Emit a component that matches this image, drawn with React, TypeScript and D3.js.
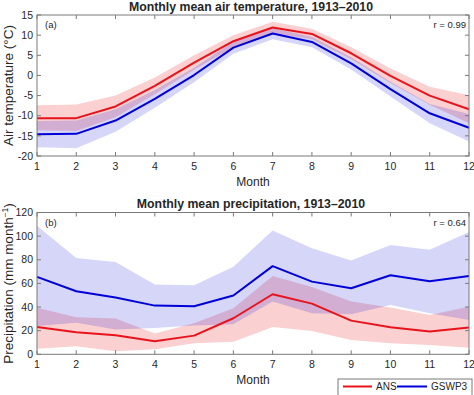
import { scaleLinear, line, area, range } from "d3";

const months = range(1, 13);

const tempANS = [-10.6, -10.6, -7.7, -2.6, 3.2, 8.5, 11.9, 10.3, 5.5, -0.1, -5.0, -8.4];
const tempANSHigh = [-7.4, -7.2, -5.0, -0.5, 5.0, 10.0, 13.3, 11.6, 7.0, 1.7, -2.8, -4.9];
const tempANSLow = [-13.6, -13.8, -10.4, -4.7, 1.4, 7.0, 10.5, 9.0, 4.0, -1.9, -7.3, -11.9];
const tempGSWP3 = [-14.6, -14.5, -11.2, -5.8, 0.1, 6.9, 10.4, 8.3, 3.0, -3.4, -9.4, -13.0];
const tempGSWP3High = [-11.3, -11.2, -8.4, -3.6, 1.9, 8.4, 11.8, 9.6, 4.5, -1.6, -7.1, -9.6];
const tempGSWP3Low = [-17.8, -18.1, -14.0, -8.0, -1.7, 5.4, 9.0, 7.0, 1.5, -5.2, -11.9, -16.4];

const precANS = [23.2, 18.6, 16.1, 11.0, 15.8, 30.5, 50.8, 42.9, 28.5, 22.9, 19.2, 22.6];
const precANSHigh = [39.3, 31.4, 30.2, 17.5, 26.3, 39.0, 66.3, 57.0, 44.6, 39.5, 33.3, 40.3];
const precANSLow = [4.8, 6.8, 2.5, 4.2, 9.3, 10.7, 23.0, 19.7, 12.0, 9.3, 7.9, 5.6];
const precGSWP3 = [65.5, 53.4, 48.0, 41.2, 40.7, 49.7, 74.6, 61.5, 55.9, 66.9, 61.8, 66.3];
const precGSWP3High = [108.8, 81.6, 78.2, 59.0, 58.4, 74.0, 104.8, 89.8, 79.3, 92.6, 88.4, 103.4];
const precGSWP3Low = [24.0, 26.8, 21.0, 22.3, 24.3, 25.4, 44.6, 34.7, 33.9, 41.8, 34.7, 29.0];

const tempTicks = [-20, -15, -10, -5, 0, 5, 10, 15];
const precTicks = [0, 20, 40, 60, 80, 100, 120];

const FONT = "'Liberation Sans', Arial, sans-serif";
const TEXT = "#262626";
const BOX = "#7a7a7a";
const RED = "#e8131b";
const BLUE = "#0000d8";
const LEFT = 37;
const RIGHT = 469;

interface Series {
  mean: number[];
  high: number[];
  low: number[];
  color: string;
  fillOpacity: number;
}

interface PanelProps {
  top: number;
  bottom: number;
  domain: [number, number];
  ticks: number[];
  title: string;
  tag: string;
  r: string;
  ylabel: React.ReactNode;
  series: Series[];
}

function Panel({ top, bottom, domain, ticks, title, tag, r, ylabel, series }: PanelProps) {
  const x = scaleLinear().domain([1, 12]).range([LEFT, RIGHT]);
  const y = scaleLinear().domain(domain).range([bottom, top]);
  const mid = (top + bottom) / 2;

  const bandPath = (s: Series) =>
    area<number>()
      .x((m) => x(m))
      .y0((_, i) => y(s.low[i]))
      .y1((_, i) => y(s.high[i]))(months) ?? undefined;
  const linePath = (s: Series) =>
    line<number>()
      .x((m) => x(m))
      .y((_, i) => y(s.mean[i]))(months) ?? undefined;

  return (
    <g fontFamily={FONT} fill={TEXT}>
      <text x={(LEFT + RIGHT) / 2 - 2} y={top - 4.5} textAnchor="middle" fontWeight="bold" fontSize={12.3}>
        {title}
      </text>
      {series.map((s, i) => (
        <path key={"b" + i} d={bandPath(s)} fill={s.color} fillOpacity={s.fillOpacity} stroke="none" />
      ))}
      {series.map((s, i) => (
        <path key={"l" + i} d={linePath(s)} fill="none" stroke={s.color} strokeWidth={2} strokeLinejoin="round" />
      ))}
      <rect x={LEFT} y={top} width={RIGHT - LEFT} height={bottom - top} fill="none" stroke={BOX} strokeWidth={1} />
      {months.map((m) => (
        <g key={"x" + m}>
          <line x1={x(m)} x2={x(m)} y1={bottom} y2={bottom - 4} stroke={BOX} />
          <line x1={x(m)} x2={x(m)} y1={top} y2={top + 4} stroke={BOX} />
          <text x={x(m)} y={bottom + 14} textAnchor="middle" fontSize={10.5}>
            {m}
          </text>
        </g>
      ))}
      {ticks.map((t) => (
        <g key={"y" + t}>
          <line x1={LEFT} x2={LEFT + 4} y1={y(t)} y2={y(t)} stroke={BOX} />
          <line x1={RIGHT} x2={RIGHT - 4} y1={y(t)} y2={y(t)} stroke={BOX} />
          <text x={LEFT - 4} y={y(t) + 3.7} textAnchor="end" fontSize={10.5}>
            {t}
          </text>
        </g>
      ))}
      <text x={LEFT + 8} y={top + 13} fontSize={9.5}>
        {tag}
      </text>
      <text x={RIGHT - 3} y={top + 13} textAnchor="end" fontSize={9.5}>
        {r}
      </text>
      <text x={(LEFT + RIGHT) / 2} y={bottom + 29.5} textAnchor="middle" fontSize={12}>
        Month
      </text>
      <text transform={`translate(12.5, ${mid}) rotate(-90)`} textAnchor="middle" fontSize={13.5}>
        {ylabel}
      </text>
    </g>
  );
}

export default function App() {
  return (
    <svg
      width={474}
      height={395}
      style={{ position: "absolute", left: 0, top: 0, background: "#fff" }}
    >
      <Panel
        top={15}
        bottom={156}
        domain={[-20, 15]}
        ticks={tempTicks}
        title="Monthly mean air temperature, 1913–2010"
        tag="(a)"
        r="r = 0.99"
        ylabel="Air temperature (°C)"
        series={[
          { mean: tempANS, high: tempANSHigh, low: tempANSLow, color: RED, fillOpacity: 0.2 },
          { mean: tempGSWP3, high: tempGSWP3High, low: tempGSWP3Low, color: BLUE, fillOpacity: 0.16 },
        ]}
      />
      <Panel
        top={212.5}
        bottom={354.3}
        domain={[0, 120]}
        ticks={precTicks}
        title="Monthly mean precipitation, 1913–2010"
        tag="(b)"
        r="r = 0.64"
        ylabel={
          <>
            Precipitation (mm month
            <tspan dy={-4.5} fontSize={8.5}>−1</tspan>
            <tspan dy={4.5}>)</tspan>
          </>
        }
        series={[
          { mean: precANS, high: precANSHigh, low: precANSLow, color: RED, fillOpacity: 0.2 },
          { mean: precGSWP3, high: precGSWP3High, low: precGSWP3Low, color: BLUE, fillOpacity: 0.16 },
        ]}
      />
      <g fontFamily={FONT} fill={TEXT} fontSize={10}>
        <rect x={338} y={379} width={134} height={20} fill="#fff" stroke={BOX} />
        <line x1={343} x2={372} y1={386.5} y2={386.5} stroke={RED} strokeWidth={2} />
        <text x={376} y={390}>ANS</text>
        <line x1={397} x2={427} y1={386.5} y2={386.5} stroke={BLUE} strokeWidth={2} />
        <text x={431} y={390}>GSWP3</text>
      </g>
    </svg>
  );
}
